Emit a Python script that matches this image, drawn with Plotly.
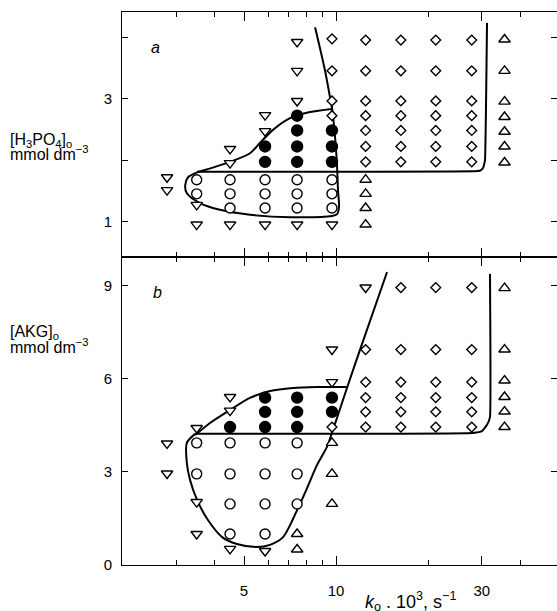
import math
import plotly.graph_objects as go

# ---------------- data (panel a: [H3PO4]o, panel b: [AKG]o) ----------------
# x = k0 . 10^3 (s^-1), y = concentration (mmol dm^-3)
a_tri_down_x = [2.8, 2.8, 3.5, 3.5, 4.5, 4.5, 4.5, 5.86, 5.86, 5.86, 7.46, 7.46, 7.46, 7.46, 9.7]
a_tri_down_y = [1.72, 1.51, 1.27, 0.95, 2.18, 1.95, 0.95, 2.73, 2.47, 0.95, 3.92, 3.45, 2.96, 0.95, 0.95]
a_circle_x = [3.5, 3.5, 4.5, 4.5, 4.5, 5.86, 5.86, 5.86, 7.46, 7.46, 7.46, 9.7, 9.7, 9.7]
a_circle_y = [1.68, 1.45, 1.68, 1.45, 1.22, 1.68, 1.45, 1.22, 1.68, 1.45, 1.22, 1.68, 1.45, 1.22]
a_filled_x = [5.86, 5.86, 7.46, 7.46, 7.46, 7.46, 9.7, 9.7, 9.7]
a_filled_y = [2.22, 1.97, 2.72, 2.48, 2.22, 1.97, 2.48, 2.22, 1.97]
a_diamond_x = [9.7, 9.7, 9.7, 9.7] + [12.5] * 7 + [16.3] * 7 + [21.2] * 7 + [27.8] * 7
a_diamond_y = [3.97, 3.45, 2.96, 2.72] + [3.95, 3.45, 2.96, 2.72, 2.48, 2.22, 1.97] * 4
a_tri_up_x = [12.5] * 4 + [35.6] * 7
a_tri_up_y = [1.68, 1.45, 1.22, 0.95, 3.96, 3.45, 2.95, 2.70, 2.46, 2.22, 1.96]

a_loop_x = [8.54, 9.20, 9.56, 9.70, 9.93, 10.08, 10.15, 10.23, 10.08, 9.70, 7.07, 5.23, 4.17, 3.59, 3.25, 3.21, 3.28, 3.51]
a_loop_y = [4.16, 3.46, 3.02, 2.85, 2.37, 1.89, 1.51, 1.24, 1.12, 1.09, 1.07, 1.11, 1.19, 1.30, 1.46, 1.59, 1.72, 1.80]
a_upper_x = [3.51, 4.50, 5.23, 5.64, 6.22, 7.07, 8.22, 9.70]
a_upper_y = [1.80, 1.97, 2.11, 2.28, 2.49, 2.68, 2.78, 2.83]
a_bound_x = [3.51, 29.15, 29.83, 30.27, 30.5, 30.73, 31.2]
a_bound_y = [1.81, 1.82, 1.837, 1.87, 1.92, 2.0, 4.23]

b_tri_down_x = [2.8, 2.8, 3.5, 3.5, 3.5, 4.5, 4.5, 4.5, 5.86, 9.7, 9.7, 12.5]
b_tri_down_y = [3.92, 2.95, 4.42, 2.03, 1.0, 5.42, 4.98, 0.52, 0.45, 6.95, 5.9, 8.95]
b_circle_x = [3.5, 3.5, 4.5, 4.5, 4.5, 4.5, 5.86, 5.86, 5.86, 5.86, 7.46, 7.46, 7.46]
b_circle_y = [3.94, 2.94, 3.94, 2.94, 1.97, 1.0, 3.94, 2.94, 1.97, 1.0, 3.94, 2.94, 1.97]
b_filled_x = [4.5, 5.86, 5.86, 5.86, 7.46, 7.46, 7.46, 9.7, 9.7]
b_filled_y = [4.45, 5.4, 4.94, 4.45, 5.4, 4.94, 4.45, 5.4, 4.94]
b_diamond_x = [9.7] + [12.5] * 5 + [16.3] * 6 + [21.2] * 6 + [27.8] * 6
b_diamond_y = [4.45] + [6.95, 5.9, 5.4, 4.94, 4.45] + [8.95, 6.95, 5.9, 5.4, 4.94, 4.45] * 3
b_tri_up_x = [7.46, 7.46, 9.7, 9.7, 9.7] + [35.6] * 6
b_tri_up_y = [1.0, 0.5, 3.94, 2.94, 1.97, 8.93, 6.95, 5.95, 5.42, 4.95, 4.45]

b_loop_x = [3.46, 3.25, 3.25, 3.33, 3.51, 3.81, 4.24, 4.74, 5.51, 6.08, 6.71, 7.46, 8.04, 8.67, 9.34, 9.70, 10.86, 11.98, 14.69]
b_loop_y = [4.23, 3.94, 3.29, 2.74, 2.10, 1.45, 0.90, 0.68, 0.58, 0.65, 0.90, 1.77, 2.48, 3.23, 3.81, 4.26, 5.71, 6.94, 9.45]
b_upper_x = [3.46, 3.87, 4.50, 5.23, 6.08, 7.23, 8.67, 10.86]
b_upper_y = [4.19, 4.58, 5.00, 5.39, 5.61, 5.71, 5.74, 5.74]
b_bound_x = [3.46, 28.07, 30.04, 31.2, 31.9, 31.9]
b_bound_y = [4.23, 4.26, 4.32, 4.52, 4.77, 9.39]

x_major = [5, 10, 30]
x_major_text = ["5", "10", "30"]
x_minor = [3, 4, 6, 7, 8, 9, 20, 40]
a_yticks = [1, 2, 3, 4]
a_yticktext = ["1", "", "3", ""]
b_yticks = [0, 3, 6, 9]
b_yticktext = ["0", "3", "6", "9"]

# ---------------- figure ----------------
FONT = "Liberation Sans, Arial, sans-serif"
fig = go.Figure()

def markers(x, y, sym, size, xa, ya, filled=False):
    fig.add_trace(go.Scatter(
        x=x, y=y, mode="markers", xaxis=xa, yaxis=ya, showlegend=False,
        marker=dict(symbol=sym, size=size,
                    color="black" if filled else "white",
                    line=dict(color="black", width=1.4)),
    ))

def curve(x, y, xa, ya, smooth=0.8):
    fig.add_trace(go.Scatter(
        x=x, y=y, mode="lines", xaxis=xa, yaxis=ya, showlegend=False,
        line=dict(color="black", width=2, shape="spline", smoothing=smooth),
    ))

# panel a
curve(a_loop_x, a_loop_y, "x", "y")
curve(a_upper_x, a_upper_y, "x", "y")
curve(a_bound_x, a_bound_y, "x", "y", smooth=0.3)
markers(a_tri_down_x, a_tri_down_y, "triangle-down", 10, "x", "y")
markers(a_circle_x, a_circle_y, "circle", 10, "x", "y")
markers(a_filled_x, a_filled_y, "circle", 11, "x", "y", filled=True)
markers(a_diamond_x, a_diamond_y, "diamond", 7.5, "x", "y")
markers(a_tri_up_x, a_tri_up_y, "triangle-up", 10, "x", "y")

# panel b
curve(b_loop_x, b_loop_y, "x2", "y2")
curve(b_upper_x, b_upper_y, "x2", "y2")
curve(b_bound_x, b_bound_y, "x2", "y2", smooth=0.3)
markers(b_tri_down_x, b_tri_down_y, "triangle-down", 10, "x2", "y2")
markers(b_circle_x, b_circle_y, "circle", 10, "x2", "y2")
markers(b_filled_x, b_filled_y, "circle", 11, "x2", "y2", filled=True)
markers(b_diamond_x, b_diamond_y, "diamond", 7.5, "x2", "y2")
markers(b_tri_up_x, b_tri_up_y, "triangle-up", 10, "x2", "y2")

xrange = [0.2997, 1.7231]
split = 0.557

def xaxis_cfg(anchor, labels):
    return dict(
        type="log", range=xrange, domain=[0, 1], anchor=anchor,
        showline=True, linecolor="black", linewidth=1, mirror="ticks",
        ticks="inside", tickvals=x_major, ticktext=x_major_text, ticklen=9,
        tickcolor="black", tickwidth=1,
        minor=dict(tickvals=x_minor, ticks="inside", ticklen=5, tickcolor="black", tickwidth=1),
        showticklabels=labels, ticklabelstandoff=12,
        tickfont=dict(family=FONT, size=15, color="black"),
        showgrid=False, zeroline=False,
    )

def yaxis_cfg(anchor, dom, rng, tv, tt, side="left", overlay=None):
    d = dict(
        domain=dom, range=rng, anchor=anchor, side=side,
        showline=(side == "left"), linecolor="black", linewidth=1, mirror=False,
        ticks="inside", tickvals=tv, ticktext=tt, ticklen=6,
        tickcolor="black", tickwidth=1,
        showticklabels=(side == "left"), ticklabelstandoff=6,
        tickfont=dict(family=FONT, size=15, color="black"),
        showgrid=False, zeroline=False,
    )
    if overlay:
        d["overlaying"] = overlay
        d.pop("domain")
    return d

a_rng = [0.423, 4.407]
b_rng = [0.0, 9.935]

fig.update_layout(
    width=557, height=611,
    margin=dict(l=122, r=0, t=12, b=46),
    paper_bgcolor="white", plot_bgcolor="white",
    font=dict(family=FONT, size=15, color="black"),
    xaxis=xaxis_cfg("y", False),
    xaxis2=xaxis_cfg("y2", True),
    yaxis=yaxis_cfg("x", [split, 1], a_rng, a_yticks, a_yticktext),
    yaxis2=yaxis_cfg("x2", [0, split], b_rng, b_yticks, b_yticktext),
    yaxis3=yaxis_cfg("x", None, a_rng, a_yticks, a_yticktext, side="right", overlay="y"),
    yaxis4=yaxis_cfg("x2", None, b_rng, b_yticks, b_yticktext, side="right", overlay="y2"),
)

# invisible traces so the right-side overlay axes are drawn
fig.add_trace(go.Scatter(x=[5], y=[2], xaxis="x", yaxis="y3", mode="markers",
                         marker=dict(opacity=0), showlegend=False, hoverinfo="skip"))
fig.add_trace(go.Scatter(x=[5], y=[5], xaxis="x2", yaxis="y4", mode="markers",
                         marker=dict(opacity=0), showlegend=False, hoverinfo="skip"))

def px_x(p):
    return (p - 122) / 435.0

def px_y(p):
    return (565 - p) / 553.0

ann = [
    dict(text="<i>a</i>", x=px_x(155), y=px_y(47), size=16, xa="center"),
    dict(text="<i>b</i>", x=px_x(157), y=px_y(292), size=16, xa="center"),
    dict(text="[H<sub>3</sub>PO<sub>4</sub>]<sub>o</sub>", x=px_x(8), y=px_y(140), size=16, xa="left"),
    dict(text="mmol dm<sup>−3</sup>", x=px_x(8), y=px_y(153), size=16, xa="left"),
    dict(text="[AKG]<sub>o</sub>", x=px_x(8), y=px_y(332), size=16, xa="left"),
    dict(text="mmol dm<sup>−3</sup>", x=px_x(8), y=px_y(346), size=16, xa="left"),
    dict(text="<i>k</i><sub>o</sub> . 10<sup>3</sup>, s<sup>−1</sup>", x=px_x(410), y=px_y(601), size=18, xa="center"),
]
for a in ann:
    fig.add_annotation(text=a["text"], x=a["x"], y=a["y"], xref="paper", yref="paper",
                       xanchor=a["xa"], yanchor="middle", showarrow=False,
                       font=dict(family=FONT, size=a["size"], color="black"))

fig.write_html("out.html")
